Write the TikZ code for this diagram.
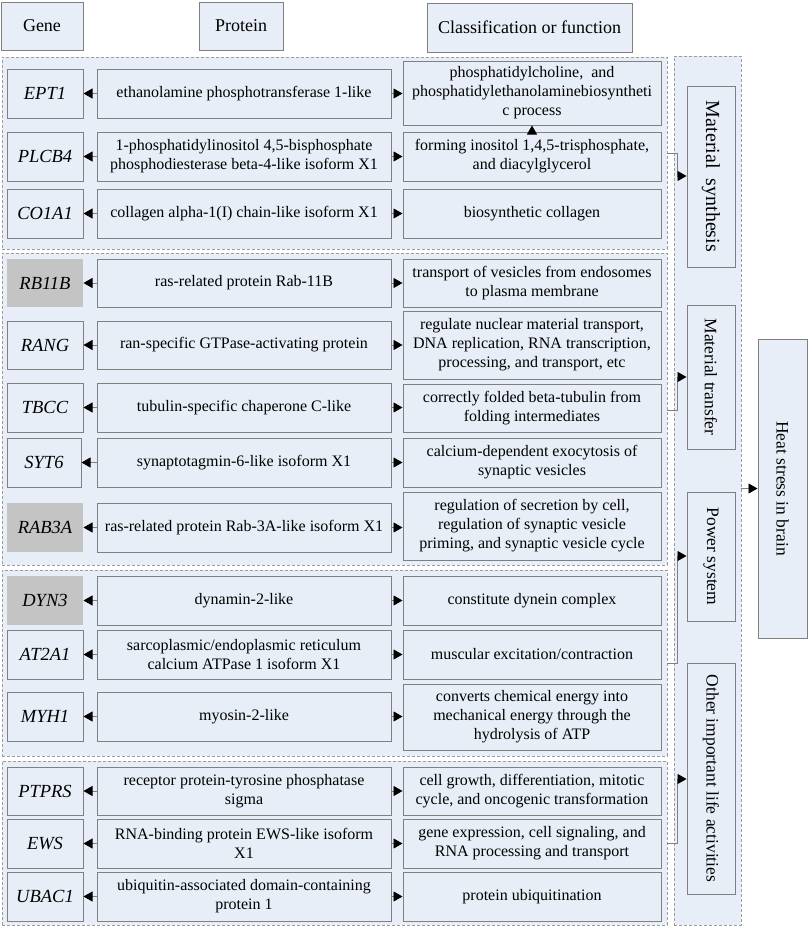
\documentclass[tikz,border=0pt]{standalone}
\usepackage{fontspec}
\setmainfont{Liberation Serif}
\usetikzlibrary{arrows.meta}
\definecolor{bfill}{HTML}{E8EEF7}
\definecolor{bline}{HTML}{808080}
\definecolor{gfill}{HTML}{C4C4C4}
\definecolor{dline}{HTML}{9C9C9C}
\tikzset{
 box/.style={draw=bline, fill=bfill, line width=1pt, inner sep=1pt, align=center, font=\fontsize{16}{19}\selectfont},
 genebox/.style={box, font=\fontsize{18.5}{21}\selectfont\itshape},
 graybox/.style={genebox, fill=gfill, draw=none},
 hdr/.style={box, font=\fontsize{18}{21}\selectfont},
 grp/.style={draw=dline, fill=bfill, dash pattern=on 3pt off 2pt, line width=0.9pt, inner sep=0pt},
 vbox/.style={box, rotate=-90, font=\fontsize{17.5}{21}\selectfont},
 arr/.style={draw=bline, line width=0.9pt, -{Triangle[length=9pt,width=10pt,color=black]}},
}
\newcommand\bx[6]{\node[#1, minimum width=#4pt-#2pt, minimum height=#5pt-#3pt] (#6) at ({(#2+#4)/2},{(#3+#5)/2})}
\begin{document}
\begin{tikzpicture}[x=1pt,y=-1pt]
\useasboundingbox (0,0) rectangle (809,927);
% headers
\bx{hdr}{1}{2}{83}{50}{hgene}{Gene};
\bx{hdr}{199}{2}{283}{50}{hprot}{Protein};
\bx{hdr}{427}{3}{632}{52}{hclass}{Classification or function};
% groups
\bx{grp}{2}{57}{667}{249}{g1}{};
\bx{grp}{2}{253}{667}{565}{g2}{};
\bx{grp}{2}{570}{667}{756}{g3}{};
\bx{grp}{2}{761}{667}{925}{g4}{};
\bx{grp}{674}{56}{741}{925}{col}{};
% right column
\node[vbox, minimum width=181pt, minimum height=48pt, font=\fontsize{20}{24}\selectfont] (ms) at (711,176.5) {Material\hspace{10pt}synthesis};
\node[vbox, minimum width=144pt, minimum height=48pt] (mt) at (711,377) {Material transfer};
\node[vbox, minimum width=129pt, minimum height=48pt] (ps) at (711,556.5) {Power system};
\node[vbox, minimum width=231pt, minimum height=48pt] (oa) at (711,778.5) {Other important life activities};
\node[vbox, minimum width=299pt, minimum height=49pt] (hs) at (782.5,488.5) {Heat stress in brain};
% rows
\bx{genebox}{7}{69}{83}{118}{ga}{EPT1};
\bx{box}{97}{69}{391}{118}{pa}{ethanolamine phosphotransferase 1-like};
\bx{box}{403}{61}{661}{125}{ca}{phosphatidylcholine,\ \ and\\phosphatidylethanolaminebiosyntheti\\c process};
\bx{genebox}{7}{132}{83}{181}{gb}{PLCB4};
\bx{box}{97}{132}{391}{181}{pb}{1-phosphatidylinositol 4,5-bisphosphate\\phosphodiesterase beta-4-like isoform X1};
\bx{box}{403}{132}{661}{181}{cb}{forming inositol 1,4,5-trisphosphate,\\and diacylglycerol};
\bx{genebox}{7}{189}{83}{238}{gc}{CO1A1};
\bx{box}{97}{189}{391}{238}{pc}{collagen alpha-1(I) chain-like isoform X1};
\bx{box}{403}{189}{661}{238}{cc}{biosynthetic collagen};
\bx{graybox}{7}{259}{83}{307}{gd}{RB11B};
\bx{box}{97}{259}{391}{307}{pd}{ras-related protein Rab-11B};
\bx{box}{403}{259}{661}{307}{cd}{transport of vesicles from endosomes\\to plasma membrane};
\bx{genebox}{7}{321}{83}{369}{ge}{RANG};
\bx{box}{97}{321}{391}{369}{pe}{ran-specific GTPase-activating protein};
\bx{box}{403}{311}{661}{379}{ce}{regulate nuclear material transport,\\DNA replication, RNA transcription,\\processing, and transport, etc};
\bx{genebox}{7}{383}{83}{432}{gf}{TBCC};
\bx{box}{97}{383}{391}{432}{pf}{tubulin-specific chaperone C-like};
\bx{box}{403}{384}{661}{432}{cf}{correctly folded beta-tubulin from\\folding intermediates};
\bx{genebox}{7}{438}{81}{487}{gg}{SYT6};
\bx{box}{97}{438}{391}{487}{pg}{synaptotagmin-6-like isoform X1};
\bx{box}{403}{438}{661}{487}{cg}{calcium-dependent exocytosis of\\synaptic vesicles};
\bx{graybox}{7}{503}{83}{552}{gh}{RAB3A};
\bx{box}{97}{503}{391}{552}{ph}{ras-related protein Rab-3A-like isoform X1};
\bx{box}{403}{492}{661}{560}{ch}{regulation of secretion by cell,\\regulation of synaptic vesicle\\priming, and synaptic vesicle cycle};
\bx{graybox}{7}{576}{83}{625}{gi}{DYN3};
\bx{box}{97}{576}{391}{625}{pi}{dynamin-2-like};
\bx{box}{403}{576}{661}{625}{ci}{constitute dynein complex};
\bx{genebox}{7}{630}{83}{679}{gj}{AT2A1};
\bx{box}{97}{630}{391}{679}{pj}{sarcoplasmic/endoplasmic reticulum\\calcium ATPase 1 isoform X1};
\bx{box}{403}{630}{661}{679}{cj}{muscular excitation/contraction};
\bx{genebox}{7}{692}{83}{741}{gk}{MYH1};
\bx{box}{97}{692}{391}{741}{pk}{myosin-2-like};
\bx{box}{403}{684}{661}{750}{ck}{converts chemical energy into\\mechanical energy through the\\hydrolysis of ATP};
\bx{genebox}{7}{767}{83}{815}{gl}{PTPRS};
\bx{box}{97}{767}{391}{815}{pl}{receptor protein-tyrosine phosphatase\\sigma};
\bx{box}{403}{767}{661}{815}{cl}{cell growth, differentiation, mitotic\\cycle, and oncogenic transformation};
\bx{genebox}{7}{819}{83}{868}{gm}{EWS};
\bx{box}{97}{819}{391}{868}{pm}{RNA-binding protein EWS-like isoform\\X1};
\bx{box}{403}{819}{661}{868}{cm}{gene expression, cell signaling, and\\RNA processing and transport};
\bx{genebox}{7}{872}{83}{921}{gn}{UBAC1};
\bx{box}{97}{872}{391}{921}{pn}{ubiquitin-associated domain-containing\\protein 1};
\bx{box}{403}{872}{661}{921}{cn}{protein ubiquitination};
% arrows
\foreach \r in {a,b,c,d,e,f,g,h,i,j,k,l,m,n}{
  \draw[arr] (p\r.west) -- (p\r.west -| g\r.east);
  \draw[arr] (p\r.east) -- (p\r.east -| c\r.west);
}
\draw[arr] (cb.north) -- (ca.south);
% group connectors
\draw[arr] (g1.east |- 0,153) -- (677,153) -- (677,176) -- (ms.south |- 0,176);
\draw[arr] (g2.east |- 0,410) -- (677,410) -- (677,377) -- (mt.south |- 0,377);
\draw[arr] (g3.east |- 0,663) -- (677,663) -- (677,556) -- (ps.south |- 0,556);
\draw[arr] (g4.east |- 0,843) -- (677,843) -- (677,779) -- (oa.south |- 0,779);
\draw[arr] (col.east |- hs.south) -- (hs.south);
\end{tikzpicture}
\end{document}
